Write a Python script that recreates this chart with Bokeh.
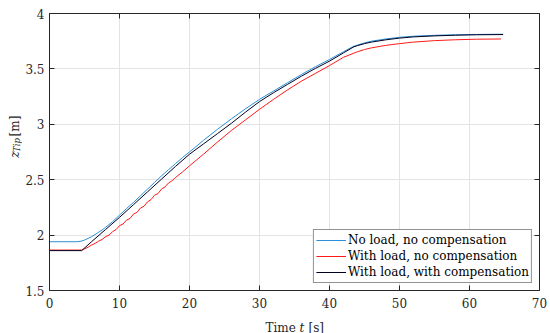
import math
from bokeh.plotting import figure
from bokeh.layouts import column, row
from bokeh.models import Range1d, LinearAxis, FixedTicker, CustomJSTickFormatter
from bokeh.core.properties import value
from bokeh.embed import file_html
from bokeh.resources import INLINE

# ---- data ----
t_blue = [0, 3.9, 4.5, 5, 5.5, 6, 6.5, 7, 7.5, 8, 8.5, 9, 9.5, 10, 10.5, 11, 12, 13, 14, 15,
          16, 17, 18, 19, 20, 22, 24, 26, 28, 30, 32, 34, 36, 38, 40, 42, 43.3, 44, 45, 46,
          48, 50, 52, 55, 58, 61, 64.8]
z_blue = [1.94, 1.94, 1.945, 1.955, 1.97, 1.985, 2.005, 2.025, 2.045, 2.07, 2.095, 2.12, 2.15,
          2.18, 2.21, 2.24, 2.295, 2.355, 2.415, 2.475, 2.535, 2.59, 2.645, 2.70, 2.75, 2.855,
          2.955, 3.05, 3.14, 3.225, 3.30, 3.375, 3.45, 3.52, 3.585, 3.655, 3.70, 3.715, 3.735,
          3.75, 3.77, 3.785, 3.795, 3.803, 3.808, 3.811, 3.813]

t_red = [0, 4.6, 5, 5.5, 6, 6.5, 7, 7.5, 8, 8.5, 9, 9.5, 10, 10.5, 11, 11.5, 12, 12.5, 13, 13.5,
         14, 14.5, 15, 15.5, 16, 16.5, 17, 17.5, 18, 18.5, 19, 20, 22, 24, 26, 28, 30, 32, 34,
         36, 38, 40, 42, 44, 45, 46, 48, 50, 52, 55, 58, 61, 64.5]
z_red = [1.865, 1.865, 1.875, 1.89, 1.91, 1.925, 1.945, 1.96, 1.985, 2.0, 2.03, 2.05, 2.085,
         2.10, 2.135, 2.15, 2.19, 2.205, 2.245, 2.26, 2.30, 2.32, 2.36, 2.375, 2.415, 2.435,
         2.47, 2.49, 2.52, 2.545, 2.57, 2.625, 2.73, 2.84, 2.945, 3.04, 3.135, 3.225, 3.31,
         3.39, 3.46, 3.53, 3.605, 3.655, 3.675, 3.69, 3.712, 3.728, 3.742, 3.755, 3.763,
         3.768, 3.77]

t_black = [0, 4.6, 6, 8, 10, 12, 14, 16, 18, 20, 22, 24, 26, 28, 30, 32, 34, 36, 38, 40, 42,
           43.5, 44, 45, 46, 48, 50, 52, 55, 58, 61, 64.8]
z_black = [1.86, 1.86, 1.94, 2.05, 2.16, 2.275, 2.39, 2.505, 2.62, 2.73, 2.823, 2.916, 3.01,
           3.11, 3.205, 3.285, 3.36, 3.435, 3.505, 3.57, 3.645, 3.70, 3.71, 3.728, 3.742,
           3.762, 3.778, 3.789, 3.798, 3.804, 3.808, 3.81]

x_ticks = [0, 10, 20, 30, 40, 50, 60, 70]
y_ticks = [1.5, 2, 2.5, 3, 3.5, 4]
series_names = ["No load, no compensation", "With load, no compensation",
                "With load, with compensation"]

FONT = "DejaVu Serif"
AX = "#262626"

# ---- main plot ----
p = figure(width=528, height=311, output_backend="svg", toolbar_location=None,
           x_range=Range1d(0, 70), y_range=Range1d(1.5, 4),
           min_border_left=26, min_border_right=11, min_border_top=13, min_border_bottom=21)
p.outline_line_color = None

p.line(t_blue, z_blue, line_color="#2b8fd9", line_width=1, legend_label=series_names[0])
p.line(t_red, z_red, line_color="#ff1a1a", line_width=1, legend_label=series_names[1])
p.line(t_black, z_black, line_color="#000020", line_width=1, legend_label=series_names[2])

fmt = CustomJSTickFormatter(code="return tick.toString();")
for ax, ticks in ((p.xaxis[0], x_ticks), (p.yaxis[0], y_ticks)):
    ax.ticker = FixedTicker(ticks=ticks)
    ax.formatter = fmt
    ax.minor_tick_line_color = None
    ax.major_tick_in = 5
    ax.major_tick_out = 0
    ax.axis_line_color = AX
    ax.major_tick_line_color = AX
    ax.major_label_text_font = FONT
    ax.major_label_text_font_size = "12px"
    ax.major_label_text_color = AX
p.xaxis[0].major_label_standoff = 7
p.yaxis[0].major_label_standoff = 5

blank = CustomJSTickFormatter(code="return '';")
for loc, ticks in (("above", x_ticks), ("right", y_ticks)):
    a = LinearAxis(ticker=FixedTicker(ticks=ticks), formatter=blank)
    a.minor_tick_line_color = None
    a.major_tick_in = 5
    a.major_tick_out = 0
    a.major_label_standoff = 0
    a.major_label_text_font_size = "1px"
    a.axis_line_color = AX
    a.major_tick_line_color = AX
    p.add_layout(a, loc)

p.xgrid.ticker = FixedTicker(ticks=x_ticks)
p.ygrid.ticker = FixedTicker(ticks=y_ticks)
p.grid.grid_line_color = "#e3e3e3"

leg = p.legend[0]
leg.location = "bottom_right"
leg.margin = 7
leg.padding = 2
leg.spacing = 0
leg.glyph_width = 30
leg.glyph_height = 16
leg.label_height = 16
leg.label_standoff = 2
leg.label_text_font = FONT
leg.label_text_font_size = "12px"
leg.label_text_color = "black"
leg.border_line_color = AX
leg.border_line_width = 1
leg.background_fill_alpha = 1


def strip(fig):
    fig.axis.visible = False
    fig.grid.visible = False
    fig.outline_line_color = None
    fig.min_border = 0
    return fig


def txt(fig, x, y, s, size="12px", style="normal", angle=0.0):
    fig.text(x=[x], y=[y], text=[s], text_font=value(FONT), text_font_size=value(size),
             text_font_style=value(style), text_color=AX, text_align="left",
             text_baseline="alphabetic", angle=angle)


# ---- y-axis title panel (22 x 311 px, data units = pixels, y upward) ----
ylab = strip(figure(width=22, height=311, output_backend="svg", toolbar_location=None,
                    x_range=Range1d(0, 22), y_range=Range1d(0, 311)))
A = math.pi / 2
txt(ylab, 14, 149, "z", style="italic", angle=A)
txt(ylab, 16.5, 155.5, "Tip", size="8.5px", style="italic", angle=A)
txt(ylab, 14, 173, "[m]", angle=A)

# ---- x-axis title panel (550 x 22 px) ----
xlab = strip(figure(width=550, height=22, output_backend="svg", toolbar_location=None,
                    x_range=Range1d(0, 550), y_range=Range1d(0, 22)))
txt(xlab, 265, 6, "Time")
txt(xlab, 299, 6, "t", style="italic")
txt(xlab, 308, 6, "[s]")

layout = column(row(ylab, p, spacing=0), xlab, spacing=0)
open("out.html", "w").write(file_html(layout, INLINE))
